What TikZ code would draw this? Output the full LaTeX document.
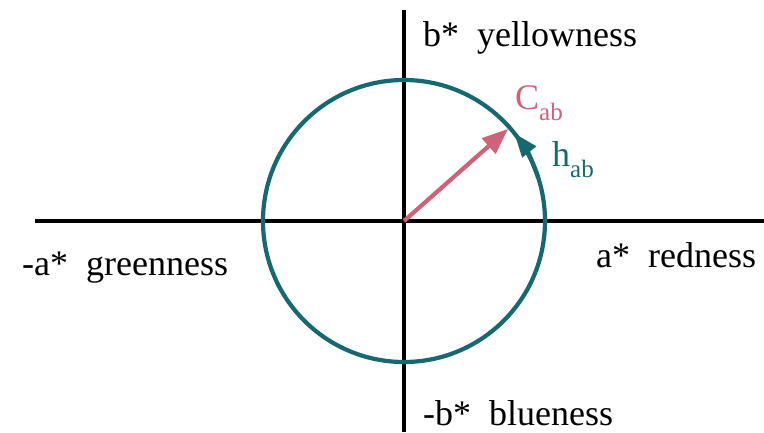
\documentclass[tikz,border=0pt]{standalone}
\usepackage{fontspec}
\setmainfont{Liberation Serif}
\usepackage{xcolor}
\usepackage{tikz}
\usetikzlibrary{arrows.meta, positioning, calc}
\definecolor{cTeal}{HTML}{16696E}
\definecolor{cRose}{HTML}{CF6279}
\newcommand{\sub}[1]{\raisebox{-0.28em}{\fontsize{25}{28}\selectfont #1}}
\tikzset{
  axis/.style={line width=3.2pt, black},
  hue/.style={line width=4.2pt, cTeal},
  chroma/.style={line width=4.2pt, cRose, -{Triangle[length=26pt, width=20pt]}},
  huetip/.style={line width=4.2pt, cTeal, -{Triangle[length=24pt, width=17pt]}},
  lbl/.style={inner sep=0pt, anchor=base west, font=\fontsize{36}{40}\selectfont},
}
\begin{document}
\begin{tikzpicture}[x=1pt, y=1pt]
  \useasboundingbox (0,0) rectangle (764,432);

  % Centre and axes
  \coordinate (o) at (404,211);
  \coordinate (aneg) at (35,211);
  \coordinate (apos) at (764,211);
  \coordinate (bpos) at (404,422);
  \coordinate (bneg) at (404,0);
  \draw[axis] (aneg) -- (apos);
  \draw[axis] (bpos) -- (bneg);

  % Hue circle
  \draw[hue] (o) circle[radius=141];
  \draw[huetip] ($(o)+(18:141)$) arc[start angle=18, end angle=38.5, radius=141];

  % Chroma vector
  \coordinate (ctip) at ($(o)+(41.5:139)$);
  \draw[chroma] (o) -- (ctip);

  % Axis labels
  \node[lbl] (yel) at (423,385) {b*\ \ yellowness};
  \node[lbl] (blu) at (423,7) {-b*\ \ blueness};
  \node[lbl] (grn) at (22,157) {-a*\ \ greenness};
  \node[lbl] (red) at (596,165) {a*\ \ redness};

  % Vector labels
  \node[lbl, text=cRose] (cab) at (515,322) {C\sub{ab}};
  \node[lbl, text=cTeal] (hab) at (552,265) {h\sub{ab}};

\end{tikzpicture}
\end{document}
